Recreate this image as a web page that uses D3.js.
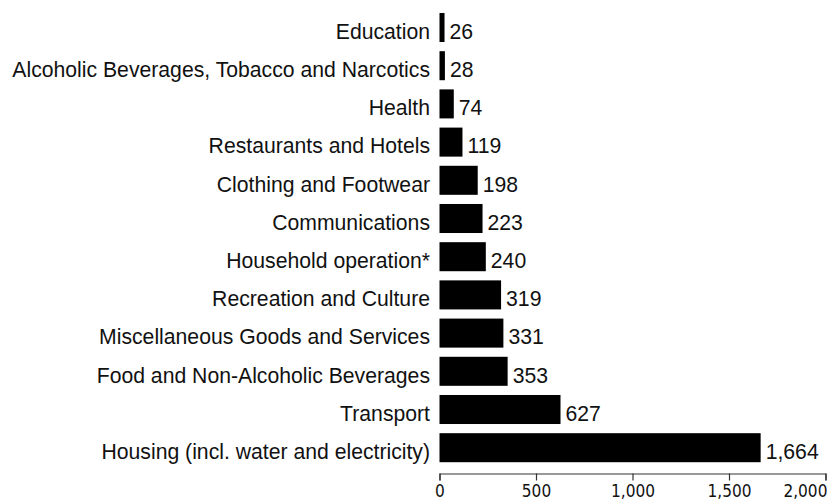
<!DOCTYPE html>
<html><head><meta charset="utf-8">
<script src="https://cdn.jsdelivr.net/npm/d3@7"></script>
<style>body{margin:0;background:#fff;} svg{display:block;}</style>
</head><body><svg id="c" width="827" height="502"></svg>
<script>
const categories = ["Education","Alcoholic Beverages, Tobacco and Narcotics","Health","Restaurants and Hotels","Clothing and Footwear","Communications","Household operation*","Recreation and Culture","Miscellaneous Goods and Services","Food and Non-Alcoholic Beverages","Transport","Housing (incl. water and electricity)"];
const values = [26,28,74,119,198,223,240,319,331,353,627,1664];
const tickValues = [0,500,1000,1500,2000];

const svg = d3.select("#c");
const x = d3.scaleLinear().domain([0,2000]).range([439.5,825.5]);
const y = d3.scaleBand().domain(categories).range([8.4,466.8]).paddingInner(0.24).paddingOuter(0.12);

svg.selectAll("rect.bar").data(categories).enter().append("rect")
  .attr("class","bar")
  .attr("x", x(0))
  .attr("y", d=>y(d))
  .attr("width", (d,i)=>x(values[i])-x(0))
  .attr("height", y.bandwidth())
  .attr("fill","#000");

svg.selectAll("text.cat").data(categories).enter().append("text")
  .attr("class","cat")
  .attr("x", x(0)-9.5)
  .attr("y", d=>y(d)+y.bandwidth()/2)
  .attr("dy","0.53em")
  .attr("text-anchor","end")
  .attr("font-family","Liberation Sans, Arial, sans-serif")
  .attr("font-size","21.2px")
  .attr("fill","#111")
  .text(d=>d);

svg.selectAll("text.val").data(categories).enter().append("text")
  .attr("class","val")
  .attr("x", (d,i)=>x(values[i])+5)
  .attr("y", d=>y(d)+y.bandwidth()/2)
  .attr("dy","0.53em")
  .attr("font-family","Liberation Sans, Arial, sans-serif")
  .attr("font-size","21.2px")
  .attr("fill","#111")
  .text((d,i)=>d3.format(",")(values[i]));

const ax = svg.append("g").attr("transform","translate(0,473.5)")
  .call(d3.axisBottom(x).tickValues(tickValues).tickFormat(d3.format(",")).tickSize(7).tickSizeOuter(7));
ax.selectAll("path,line").attr("stroke","#333").attr("stroke-width",1.2);
ax.selectAll("text")
  .attr("font-family","Liberation Sans Narrow, DejaVu Sans Condensed, sans-serif")
  .attr("font-size","18px").attr("fill","#111")
  .attr("y",24).attr("dy","0")
  .attr("transform","scale(0.95,1)");
ax.selectAll(".tick").filter(d=>d===2000).select("text")
  .attr("text-anchor","end").attr("x",1.5);
</script></body></html>
